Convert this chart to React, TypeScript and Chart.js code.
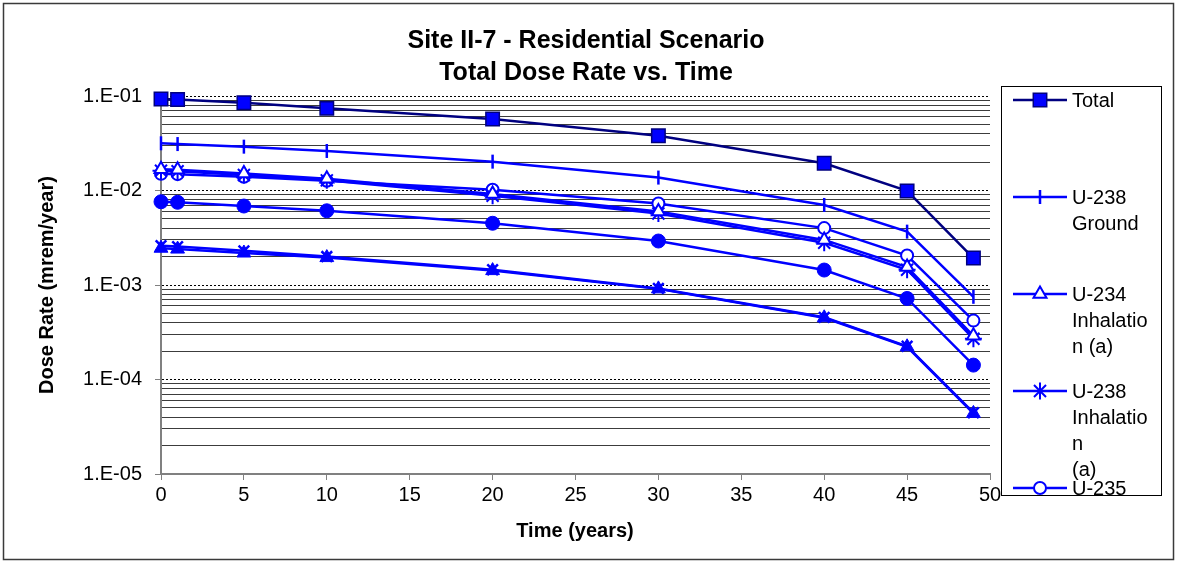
import React, { useEffect, useRef } from 'react';
import { Chart, registerables } from 'chart.js';
import { drawPoint } from 'chart.js/helpers';

Chart.register(...registerables);

// ---------- data ----------
const years = [0, 1, 5, 10, 20, 30, 40, 45, 49];

const total = [0.093, 0.092, 0.085, 0.074, 0.057, 0.038, 0.0194, 0.0099, 0.00193];
const u238Ground = [0.0316, 0.031, 0.0291, 0.0262, 0.0202, 0.0137, 0.00703, 0.00367, 0.00075];
const u234InhA = [0.0168, 0.0166, 0.0151, 0.0133, 0.0092, 0.006, 0.003, 0.00155, 0.00029];
const u238InhA = [0.0162, 0.016, 0.0146, 0.0128, 0.0088, 0.0057, 0.0028, 0.00145, 0.00027];
const u235InhA = [0.015, 0.0149, 0.014, 0.0127, 0.0102, 0.0073, 0.004, 0.00205, 0.00042];
const u235Ing = [0.0076, 0.0075, 0.00685, 0.0061, 0.0045, 0.00292, 0.00144, 0.00072, 0.000142];
const u234Ing = [0.00245, 0.0024, 0.00218, 0.00195, 0.00142, 0.00091, 0.00045, 0.000222, 0.0000438];
const u238Ing = [0.0026, 0.00255, 0.0023, 0.002, 0.00145, 0.00092, 0.000455, 0.000225, 0.0000445];

const seriesNames = [
  'Total',
  'U-238 Ground',
  'U-234 Inhalation (a)',
  'U-238 Inhalation (a)',
  'U-235 Inhalation (a)',
  'U-235 Ingestion',
  'U-234 Ingestion',
  'U-238 Ingestion',
];

// legend text as wrapped in the original legend box
const legendLines = [
  ['Total'],
  ['U-238', 'Ground'],
  ['U-234', 'Inhalatio', 'n (a)'],
  ['U-238', 'Inhalatio', 'n', '(a)'],
  ['U-235', 'Inhalatio', 'n (a)'],
  ['U-235', 'Ingestion'],
  ['U-234', 'Ingestion'],
  ['U-238', 'Ingestion'],
];

const titleLines = ['Site II-7 - Residential Scenario', 'Total Dose Rate vs. Time'];
const xAxisTitle = 'Time (years)';
const yAxisTitle = 'Dose Rate (mrem/year)';

const yMajorValues = [1e-5, 1e-4, 1e-3, 1e-2, 1e-1];
const yTickLabels = ['1.E-05', '1.E-04', '1.E-03', '1.E-02', '1.E-01'];
const xMin = 0;
const xMax = 50;
const xStep = 5;

// ---------- styling ----------
const W = 1177;
const H = 563;
const PLOT = { left: 161, right: 990, top: 96, bottom: 474 };
const FONT = '"Liberation Sans", Arial, sans-serif';
const BLUE = '#0000FF';
const NAVY = '#000080';

type Sty = {
  pointStyle: string;
  radius: number;
  rotation?: number;
  fill: string;
  stroke: string;
  line: string;
  pbw: number;
};

const styles: Sty[] = [
  { pointStyle: 'rect', radius: 9.5, fill: BLUE, stroke: NAVY, line: NAVY, pbw: 1.5 },
  { pointStyle: 'line', radius: 7, rotation: 90, fill: BLUE, stroke: BLUE, line: BLUE, pbw: 2.5 },
  { pointStyle: 'triangle', radius: 7.5, fill: '#FFFFFF', stroke: BLUE, line: BLUE, pbw: 2 },
  { pointStyle: 'star', radius: 8.5, fill: BLUE, stroke: BLUE, line: BLUE, pbw: 2 },
  { pointStyle: 'circle', radius: 6, fill: '#FFFFFF', stroke: BLUE, line: BLUE, pbw: 2 },
  { pointStyle: 'circle', radius: 7, fill: BLUE, stroke: BLUE, line: BLUE, pbw: 1 },
  { pointStyle: 'triangle', radius: 8, fill: BLUE, stroke: BLUE, line: BLUE, pbw: 1 },
  { pointStyle: 'crossRot', radius: 7.5, fill: BLUE, stroke: BLUE, line: BLUE, pbw: 2.5 },
];

const seriesValues = [total, u238Ground, u234InhA, u238InhA, u235InhA, u235Ing, u234Ing, u238Ing];

const isMajor = (v: number) => Math.abs(Math.log10(v) - Math.round(Math.log10(v))) < 1e-9;

const decorPlugin = {
  id: 'decor',
  afterDraw(chart: any) {
    const ctx: CanvasRenderingContext2D = chart.ctx;
    ctx.save();
    // outer border
    ctx.strokeStyle = '#3a3a3a';
    ctx.lineWidth = 1.5;
    ctx.strokeRect(3.5, 3.5, W - 7, H - 7);

    // title
    ctx.fillStyle = '#000';
    ctx.textAlign = 'center';
    ctx.textBaseline = 'middle';
    ctx.font = `bold 25px ${FONT}`;
    ctx.fillText(titleLines[0], 586, 41);
    ctx.fillText(titleLines[1], 586, 73);

    // axis titles
    ctx.font = `bold 20px ${FONT}`;
    ctx.fillText(xAxisTitle, 575, 531);
    ctx.save();
    ctx.translate(47, 285);
    ctx.rotate(-Math.PI / 2);
    ctx.fillText(yAxisTitle, 0, 0);
    ctx.restore();

    // legend box
    const box = { l: 1001.5, t: 86.5, r: 1161.5, b: 495.5 };
    ctx.fillStyle = '#fff';
    ctx.fillRect(box.l, box.t, box.r - box.l, box.b - box.t);
    ctx.save();
    ctx.beginPath();
    ctx.rect(box.l, box.t, box.r - box.l, box.b - box.t);
    ctx.clip();
    ctx.font = `20px ${FONT}`;
    ctx.textAlign = 'left';
    ctx.textBaseline = 'middle';
    legendLines.forEach((lines, i) => {
      const y = 100 + i * 97;
      const s = styles[i];
      ctx.strokeStyle = s.line;
      ctx.lineWidth = 2.5;
      ctx.beginPath();
      ctx.moveTo(1013, y);
      ctx.lineTo(1067, y);
      ctx.stroke();
      ctx.fillStyle = s.fill;
      ctx.strokeStyle = s.stroke;
      ctx.lineWidth = s.pbw;
      drawPoint(ctx, { pointStyle: s.pointStyle as any, rotation: s.rotation || 0, radius: s.radius, borderWidth: s.pbw }, 1040, y);
      ctx.fillStyle = '#000';
      lines.forEach((t, j) => ctx.fillText(t, 1072, y + 1 + j * 26));
    });
    ctx.restore();
    ctx.strokeStyle = '#000';
    ctx.lineWidth = 1;
    ctx.strokeRect(box.l, box.t, box.r - box.l, box.b - box.t);
    ctx.restore();
  },
};

export default function App() {
  const ref = useRef<HTMLCanvasElement>(null);
  useEffect(() => {
    if (!ref.current) return;
    const datasets = seriesValues.map((vals, i) => {
      const s = styles[i];
      return {
        label: seriesNames[i],
        data: years.map((x, k) => ({ x, y: vals[k] })),
        borderColor: s.line,
        backgroundColor: s.fill,
        borderWidth: 2.5,
        pointStyle: s.pointStyle,
        pointRotation: s.rotation || 0,
        pointRadius: s.radius,
        pointBackgroundColor: s.fill,
        pointBorderColor: s.stroke,
        pointBorderWidth: s.pbw,
        tension: 0,
        fill: false,
        clip: false as any,
      };
    });
    const chart = new Chart(ref.current, {
      type: 'line',
      data: { datasets: datasets as any },
      options: {
        animation: false,
        responsive: false,
        maintainAspectRatio: false,
        events: [],
        layout: { padding: { left: 0, top: PLOT.top, right: W - PLOT.right, bottom: 0 } },
        plugins: { legend: { display: false }, title: { display: false }, tooltip: { enabled: false } },
        scales: {
          x: {
            type: 'linear',
            position: 'bottom',
            min: xMin,
            max: xMax,
            afterFit: (s: any) => {
              s.height = H - PLOT.bottom;
            },
            ticks: {
              stepSize: xStep,
              autoSkip: false,
              maxRotation: 0,
              color: '#000',
              padding: 3,
              font: { family: FONT, size: 20 },
            },
            grid: { drawOnChartArea: false, drawTicks: true, tickLength: 6, color: '#808080', lineWidth: 1 },
            border: { display: true, color: '#808080', width: 2 },
          },
          y: {
            type: 'logarithmic',
            min: yMajorValues[0],
            max: yMajorValues[yMajorValues.length - 1],
            afterFit: (s: any) => {
              s.width = PLOT.left;
            },
            afterBuildTicks: (s: any) => {
              const ticks: any[] = [];
              for (let d = 0; d < yMajorValues.length; d++) {
                const base = yMajorValues[d];
                if (d === yMajorValues.length - 1) {
                  ticks.push({ value: base });
                } else {
                  for (let m = 1; m <= 9; m++) ticks.push({ value: parseFloat((m * base).toPrecision(6)) });
                }
              }
              s.ticks = ticks;
            },
            ticks: {
              autoSkip: false,
              color: '#000',
              padding: 13,
              font: { family: FONT, size: 20 },
              callback: (v: any) => {
                const idx = yMajorValues.findIndex((m) => Math.abs(m - v) / m < 1e-9);
                return idx >= 0 ? yTickLabels[idx] : '';
              },
            },
            grid: {
              drawTicks: true,
              tickLength: 6,
              lineWidth: 1,
              color: (c: any) => (c.tick && isMajor(c.tick.value) ? '#000' : '#3c3c3c'),
              tickColor: (c: any) => (c.tick && isMajor(c.tick.value) ? '#808080' : 'rgba(0,0,0,0)'),
            },
            border: {
              display: true,
              color: '#808080',
              width: 2,
              dash: (c: any) => (c.tick && isMajor(c.tick.value) ? [2, 2] : []),
            } as any,
          },
        },
      },
      plugins: [decorPlugin],
    } as any);
    return () => chart.destroy();
  }, []);
  return (
    <div style={{ position: 'absolute', left: 0, top: 0, width: W, height: H, background: '#fff' }}>
      <canvas ref={ref} width={W} height={H} style={{ display: 'block', width: W, height: H }} />
    </div>
  );
}
